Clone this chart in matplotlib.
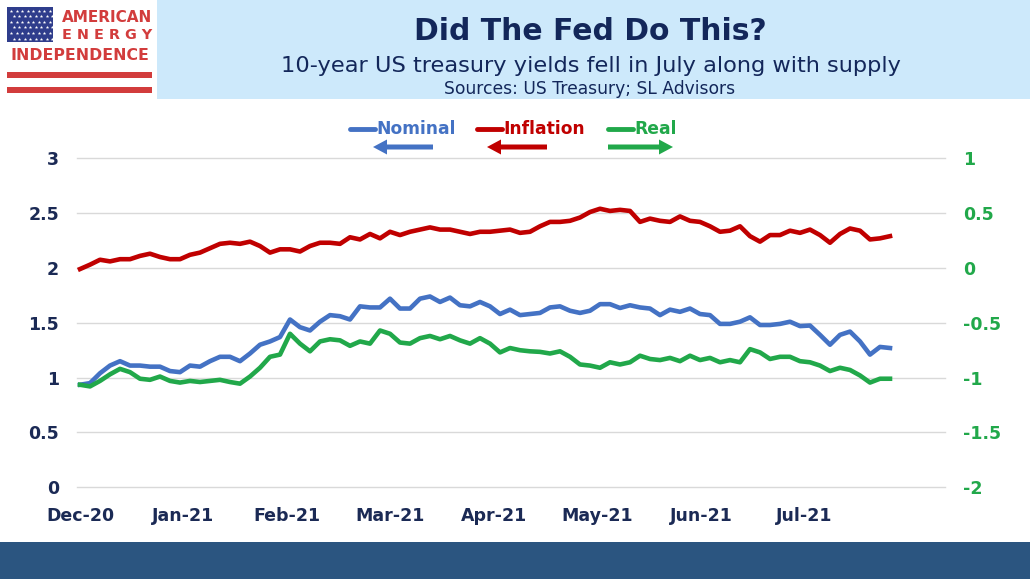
import numpy as np
import matplotlib
matplotlib.use("Agg")
from matplotlib import pyplot as plt
from matplotlib.patches import Rectangle

# 10-year yields, sampled about every second trading day, Dec-20 .. late Jul-21
nominal = [0.935, 0.95, 1.04, 1.11, 1.15, 1.11, 1.11, 1.10, 1.10, 1.06,
           1.05, 1.11, 1.10, 1.15, 1.19, 1.19, 1.15, 1.22, 1.30, 1.33,
           1.37, 1.53, 1.46, 1.43, 1.51, 1.57, 1.56, 1.53, 1.65, 1.64,
           1.64, 1.72, 1.63, 1.63, 1.72, 1.74, 1.69, 1.73, 1.66, 1.65,
           1.69, 1.65, 1.58, 1.62, 1.57, 1.58, 1.59, 1.64, 1.65, 1.61,
           1.59, 1.61, 1.67, 1.67, 1.635, 1.66, 1.64, 1.63, 1.57, 1.62,
           1.60, 1.63, 1.58, 1.57, 1.49, 1.49, 1.51, 1.55, 1.48, 1.48,
           1.49, 1.51, 1.47, 1.475, 1.39, 1.30, 1.39, 1.42, 1.33, 1.21,
           1.28, 1.27]
inflation = [1.99, 2.03, 2.075, 2.06, 2.08, 2.08, 2.11, 2.13, 2.10, 2.08,
             2.08, 2.12, 2.14, 2.18, 2.22, 2.23, 2.22, 2.24, 2.20, 2.14,
             2.17, 2.17, 2.15, 2.20, 2.23, 2.23, 2.22, 2.28, 2.26, 2.31,
             2.27, 2.33, 2.30, 2.33, 2.35, 2.37, 2.35, 2.35, 2.33, 2.31,
             2.33, 2.33, 2.34, 2.35, 2.32, 2.33, 2.38, 2.42, 2.42, 2.43,
             2.46, 2.51, 2.54, 2.52, 2.53, 2.52, 2.42, 2.45, 2.43, 2.42,
             2.47, 2.43, 2.42, 2.38, 2.33, 2.34, 2.38, 2.29, 2.24, 2.30,
             2.30, 2.34, 2.32, 2.35, 2.30, 2.23, 2.31, 2.36, 2.34, 2.26,
             2.27, 2.29]
real = [-1.065, -1.08, -1.03, -0.97, -0.92, -0.95, -1.01, -1.02, -0.99, -1.03,
        -1.045, -1.03, -1.04, -1.03, -1.02, -1.04, -1.055, -0.99, -0.91, -0.81,
        -0.79, -0.60, -0.69, -0.76, -0.67, -0.65, -0.66, -0.71, -0.67, -0.69,
        -0.57, -0.60, -0.68, -0.69, -0.64, -0.62, -0.65, -0.62, -0.66, -0.69,
        -0.64, -0.69, -0.77, -0.73, -0.75, -0.76, -0.765, -0.78, -0.76, -0.81,
        -0.88, -0.89, -0.91, -0.86, -0.88, -0.86, -0.80, -0.83, -0.84, -0.82,
        -0.85, -0.80, -0.84, -0.82, -0.86, -0.84, -0.86, -0.74, -0.77, -0.83,
        -0.81, -0.81, -0.85, -0.86, -0.89, -0.94, -0.91, -0.93, -0.98, -1.045,
        -1.01, -1.01]
months = ['Dec-20', 'Jan-21', 'Feb-21', 'Mar-21', 'Apr-21', 'May-21', 'Jun-21', 'Jul-21']
left_ticks = [0, 0.5, 1, 1.5, 2, 2.5, 3]
right_ticks = [-2, -1.5, -1, -0.5, 0, 0.5, 1]

NAVY = '#1b2a55'
BLUE = '#4472c4'
RED = '#c00000'
GREEN = '#21a84a'
LOGO_RED = '#d23c3c'

W, H = 1030, 579
fig = plt.figure(figsize=(W / 100, H / 100), dpi=100)

x = np.arange(len(nominal))

ax = fig.add_axes([77 / W, 1 - 487.3 / H, (945 - 77) / W, (487.3 - 158.3) / H])
ax.plot(x, nominal, color=BLUE, lw=3.3, solid_joinstyle='round', zorder=3)
ax.plot(x, inflation, color=RED, lw=3.3, solid_joinstyle='round', zorder=3)
ax.set_ylim(0, 3)
ax.set_xlim(-0.3, 86.5)
ax.set_yticks(left_ticks)
ax.set_yticklabels(['%g' % t for t in left_ticks])
ax.set_xticks(np.arange(len(months)) * 10.35)
ax.set_xticklabels(months)
ax.grid(axis='y', color='#d9d9d9', lw=1)
for gl in ax.get_ygridlines():
    gl.set_clip_on(False)
ax.set_axisbelow(True)
for s in ax.spines.values():
    s.set_visible(False)
ax.tick_params(axis='y', length=0, pad=13, labelsize=12.5, labelcolor=NAVY)
ax.tick_params(axis='x', length=0, pad=14, labelsize=12.5, labelcolor=NAVY)
for lab in ax.get_xticklabels() + ax.get_yticklabels():
    lab.set_fontweight('bold')

ax2 = ax.twinx()
ax2.plot(x, real, color=GREEN, lw=3.3, solid_joinstyle='round', zorder=3)
ax2.set_ylim(-2, 1)
ax2.set_yticks(right_ticks)
ax2.set_yticklabels(['%g' % t for t in right_ticks])
for s in ax2.spines.values():
    s.set_visible(False)
ax2.tick_params(axis='y', length=0, pad=13, labelsize=12.5, labelcolor=GREEN)
for lab in ax2.get_yticklabels():
    lab.set_fontweight('bold')

# decoration layer in pixel coordinates
ov = fig.add_axes([0, 0, 1, 1], zorder=5)
ov.set_xlim(0, W)
ov.set_ylim(H, 0)
ov.axis('off')
ov.patch.set_alpha(0)

# header
ov.add_patch(Rectangle((157, 0), W - 157, 99, color='#cde9fb', lw=0))
ov.text(590, 32, 'Did The Fed Do This?', ha='center', va='center',
        fontsize=21.5, fontweight='bold', color='#13275a')
ov.text(591, 66, '10-year US treasury yields fell in July along with supply',
        ha='center', va='center', fontsize=16.2, color='#13275a')
ov.text(590, 89, 'Sources: US Treasury; SL Advisors', ha='center', va='center',
        fontsize=12.3, color='#13275a')

# logo
ov.add_patch(Rectangle((7, 7), 46, 35, color='#2f3d8c', lw=0))
for r in range(6):
    for c in range(8):
        ov.plot(11 + c * 5.5 + (r % 2) * 2.7, 10.5 + r * 5.6, marker='*', ms=2.6,
                color='white', mec='none')
ov.text(152, 17, 'AMERICAN', ha='right', va='center', fontsize=11,
        fontweight='bold', color=LOGO_RED)
ov.text(152, 35, 'E N E R G Y', ha='right', va='center', fontsize=10.4,
        fontweight='bold', color=LOGO_RED)
ov.text(79.5, 55, 'INDEPENDENCE', ha='center', va='center', fontsize=11.3,
        fontweight='bold', color=LOGO_RED)
ov.add_patch(Rectangle((7, 72), 145, 5.5, color=LOGO_RED, lw=0))
ov.add_patch(Rectangle((7, 87), 145, 5.5, color=LOGO_RED, lw=0))

# legend
legend = [('Nominal', BLUE, 350, 373, 433, -1),
          ('Inflation', RED, 477, 487, 547, -1),
          ('Real', GREEN, 608, 608, 673, 1)]
for name, col, x0, a0, a1, d in legend:
    ov.plot([x0, x0 + 25], [129, 129], color=col, lw=3.5, solid_capstyle='round')
    ov.text(x0 + 26, 129, name, ha='left', va='center', fontsize=12.3,
            fontweight='bold', color=col)
    if d < 0:
        ov.arrow(a1, 147, a0 - a1, 0, width=5, head_width=15, head_length=14,
                 length_includes_head=True, color=col, lw=0)
    else:
        ov.arrow(a0, 147, a1 - a0, 0, width=5, head_width=15, head_length=14,
                 length_includes_head=True, color=col, lw=0)

# footer band
ov.add_patch(Rectangle((0, 542), W, H - 542, color='#2b5580', lw=0))

fig.savefig('out.png', dpi=100)
